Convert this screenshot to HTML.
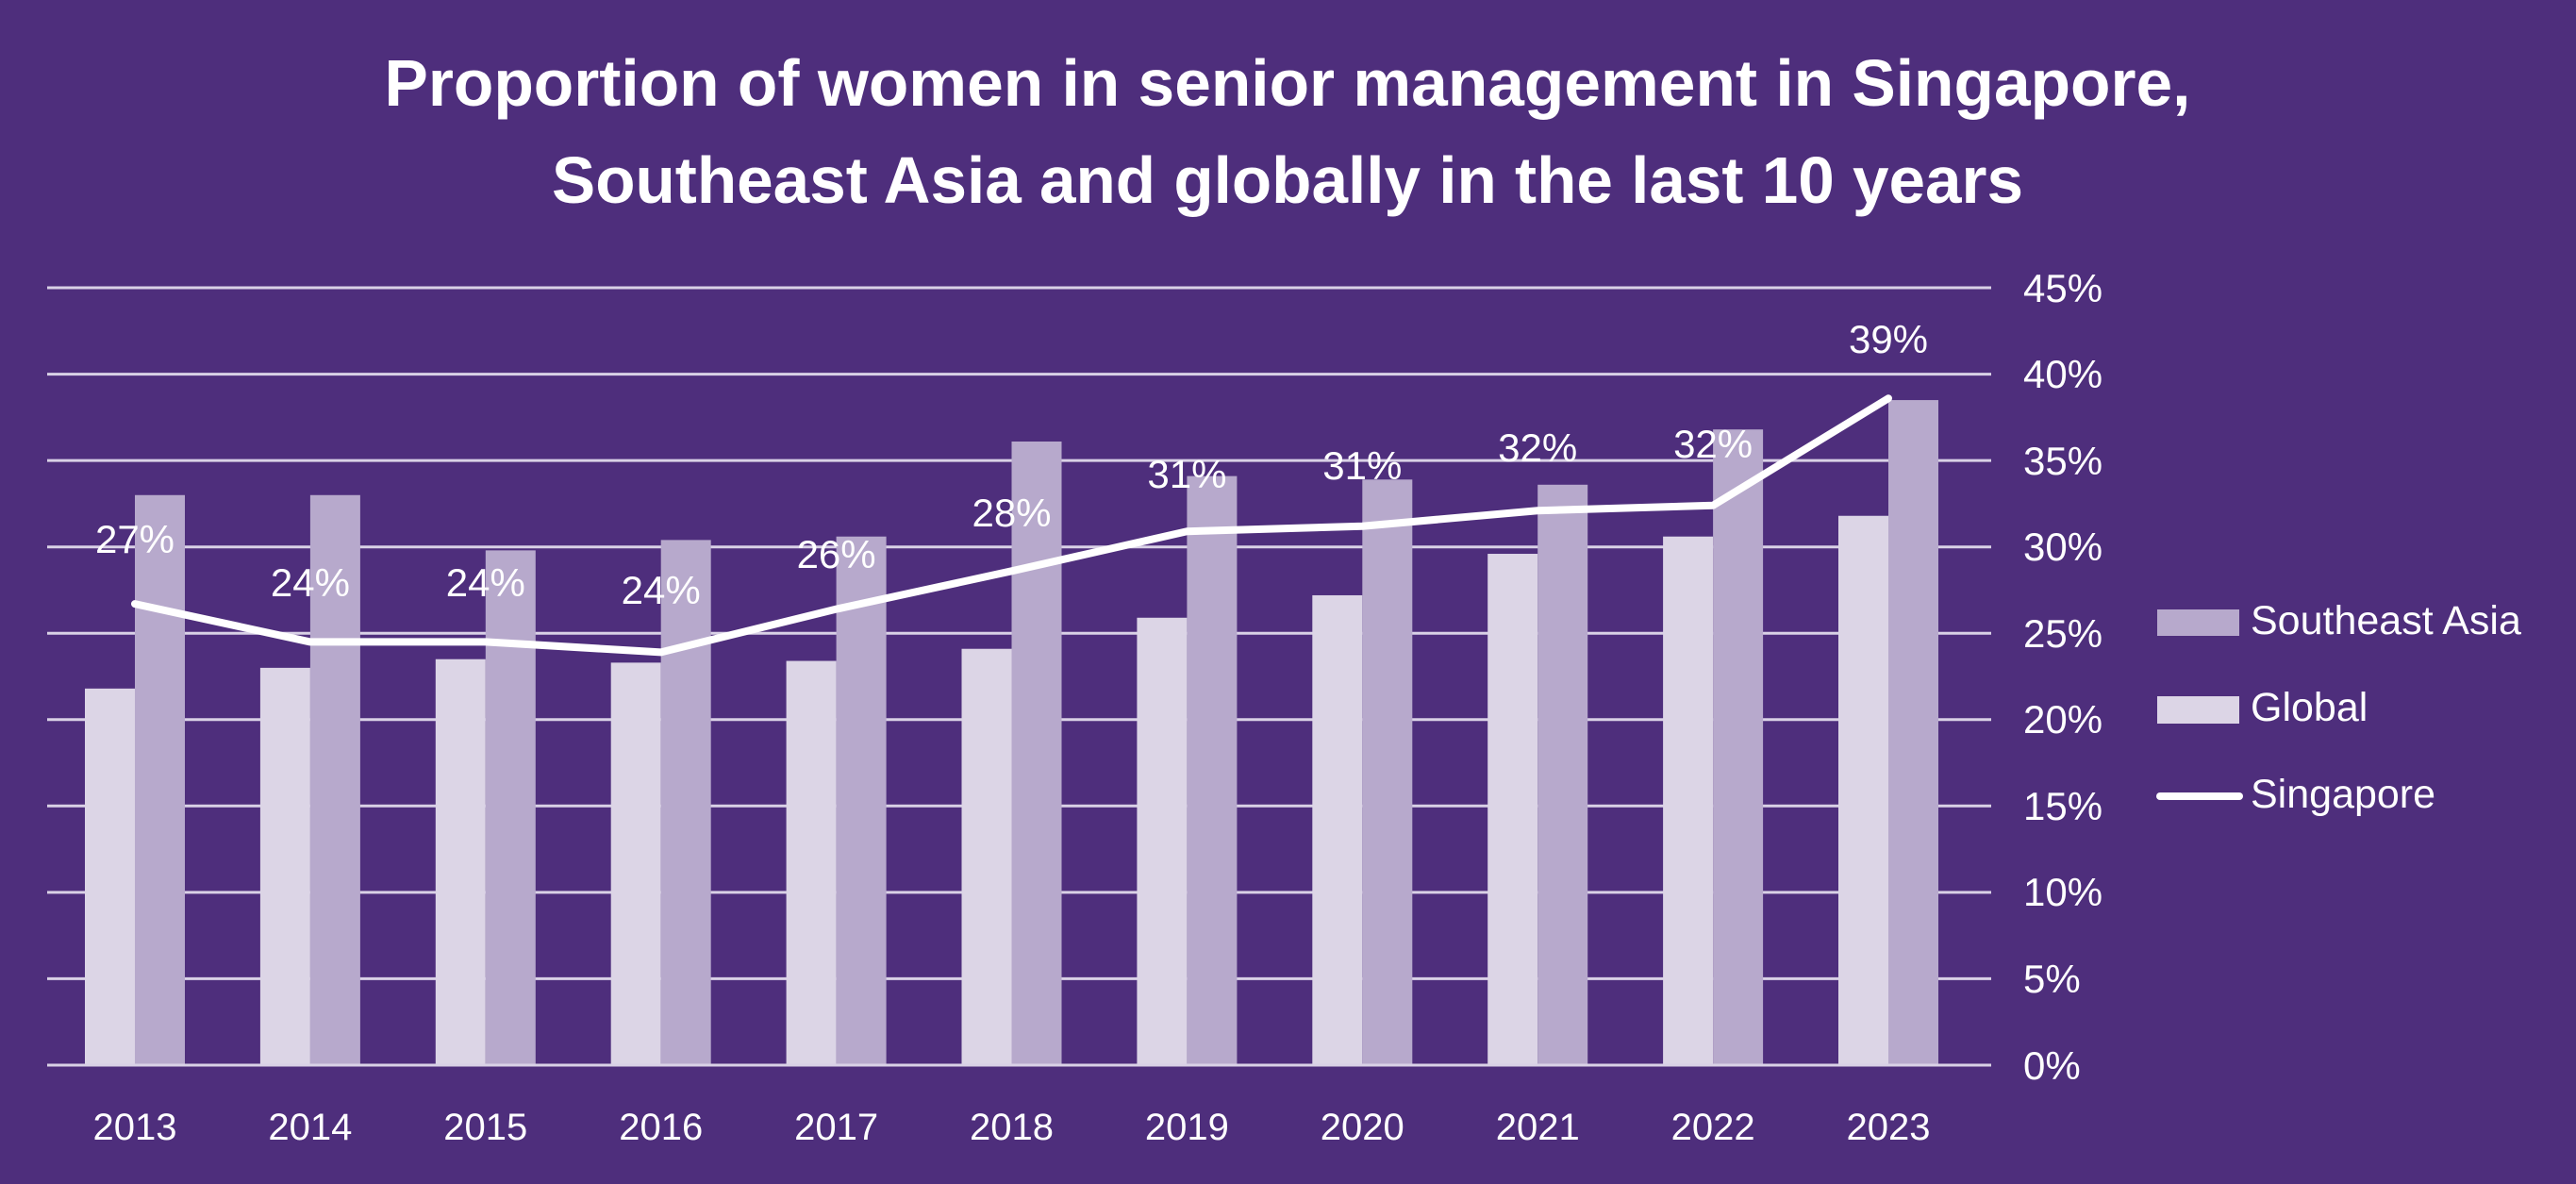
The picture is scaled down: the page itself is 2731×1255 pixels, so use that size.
<!DOCTYPE html>
<html><head><meta charset="utf-8"><style>
html,body{margin:0;padding:0;background:#4e2e7c;}
svg{display:block}
text{font-family:"Liberation Sans",sans-serif;fill:#fff}
</style></head><body>
<svg width="2731" height="1255" viewBox="0 0 2731 1255" xmlns="http://www.w3.org/2000/svg">
<rect width="2731" height="1255" fill="#4e2e7c"/>
<text x="1365" y="112" text-anchor="middle" font-size="70" font-weight="bold" textLength="1915" lengthAdjust="spacingAndGlyphs">Proportion of women in senior management in Singapore,</text>
<text x="1365" y="215" text-anchor="middle" font-size="70" font-weight="bold" textLength="1560" lengthAdjust="spacingAndGlyphs">Southeast Asia and globally in the last 10 years</text>
<g stroke="#d9d1e6" stroke-width="3">
<line x1="50" x2="2111" y1="305" y2="305"/><line x1="50" x2="2111" y1="396.6" y2="396.6"/>
<line x1="50" x2="2111" y1="488.1" y2="488.1"/><line x1="50" x2="2111" y1="579.7" y2="579.7"/>
<line x1="50" x2="2111" y1="671.2" y2="671.2"/><line x1="50" x2="2111" y1="762.8" y2="762.8"/>
<line x1="50" x2="2111" y1="854.3" y2="854.3"/><line x1="50" x2="2111" y1="945.9" y2="945.9"/>
<line x1="50" x2="2111" y1="1037.4" y2="1037.4"/><line x1="50" x2="2111" y1="1129" y2="1129"/>
</g>
<g id="bars"></g>
<polyline id="sg" fill="none" stroke="#fff" stroke-width="8" stroke-linecap="round" stroke-linejoin="round" points=""/>
<g id="labels" font-size="42" text-anchor="middle"></g>
<g font-size="42">
<text x="2145" y="320">45%</text><text x="2145" y="411">40%</text><text x="2145" y="503">35%</text>
<text x="2145" y="594">30%</text><text x="2145" y="686">25%</text><text x="2145" y="777">20%</text>
<text x="2145" y="869">15%</text><text x="2145" y="960">10%</text><text x="2145" y="1052">5%</text>
<text x="2145" y="1144">0%</text>
</g>
<rect x="2287" y="646" width="87" height="28" fill="#b7a9cc"/>
<rect x="2287" y="738" width="87" height="29" fill="#dcd5e6"/>
<line x1="2290" x2="2374" y1="844" y2="844" stroke="#fff" stroke-width="8" stroke-linecap="round"/>
<g font-size="43"><text x="2386" y="672">Southeast Asia</text><text x="2386" y="764">Global</text><text x="2386" y="856">Singapore</text></g>
</svg>
<script>
var G=[21.8,23.0,23.5,23.3,23.4,24.1,25.9,27.2,29.6,30.6,31.8];
var S=[33.0,33.0,29.8,30.4,30.6,36.1,34.1,33.9,33.6,36.8,38.5];
var L=[26.7,24.5,24.5,23.9,26.4,28.6,30.9,31.2,32.1,32.4,38.6];
var LL=["27%","24%","24%","24%","26%","28%","31%","31%","32%","32%","39%"];
var LY=[571,617,617,625,587,543,502,493,474,470,359];
var ns="http://www.w3.org/2000/svg";
function y(v){return 1129-v*18.31;}
var b=document.getElementById("bars"),lb=document.getElementById("labels"),pts=[];
var svg=document.querySelector("svg");
for(var i=0;i<11;i++){
 var x=90+i*185.9;
 var r=document.createElementNS(ns,"rect");r.setAttribute("x",x);r.setAttribute("y",y(G[i]));r.setAttribute("width",53);r.setAttribute("height",1127.5-y(G[i]));r.setAttribute("fill","#dcd5e6");b.appendChild(r);
 r=document.createElementNS(ns,"rect");r.setAttribute("x",x+53);r.setAttribute("y",y(S[i]));r.setAttribute("width",53);r.setAttribute("height",1127.5-y(S[i]));r.setAttribute("fill","#b7a9cc");b.appendChild(r);
 pts.push((x+53)+","+y(L[i]));
 var t=document.createElementNS(ns,"text");t.setAttribute("x",x+53);t.setAttribute("y",LY[i]+15);t.textContent=LL[i];lb.appendChild(t);
 t=document.createElementNS(ns,"text");t.setAttribute("x",x+53);t.setAttribute("y",1208);t.setAttribute("font-size","40");t.setAttribute("text-anchor","middle");t.textContent=2013+i;svg.appendChild(t);
}
document.getElementById("sg").setAttribute("points",pts.join(" "));
</script>
</body></html>
